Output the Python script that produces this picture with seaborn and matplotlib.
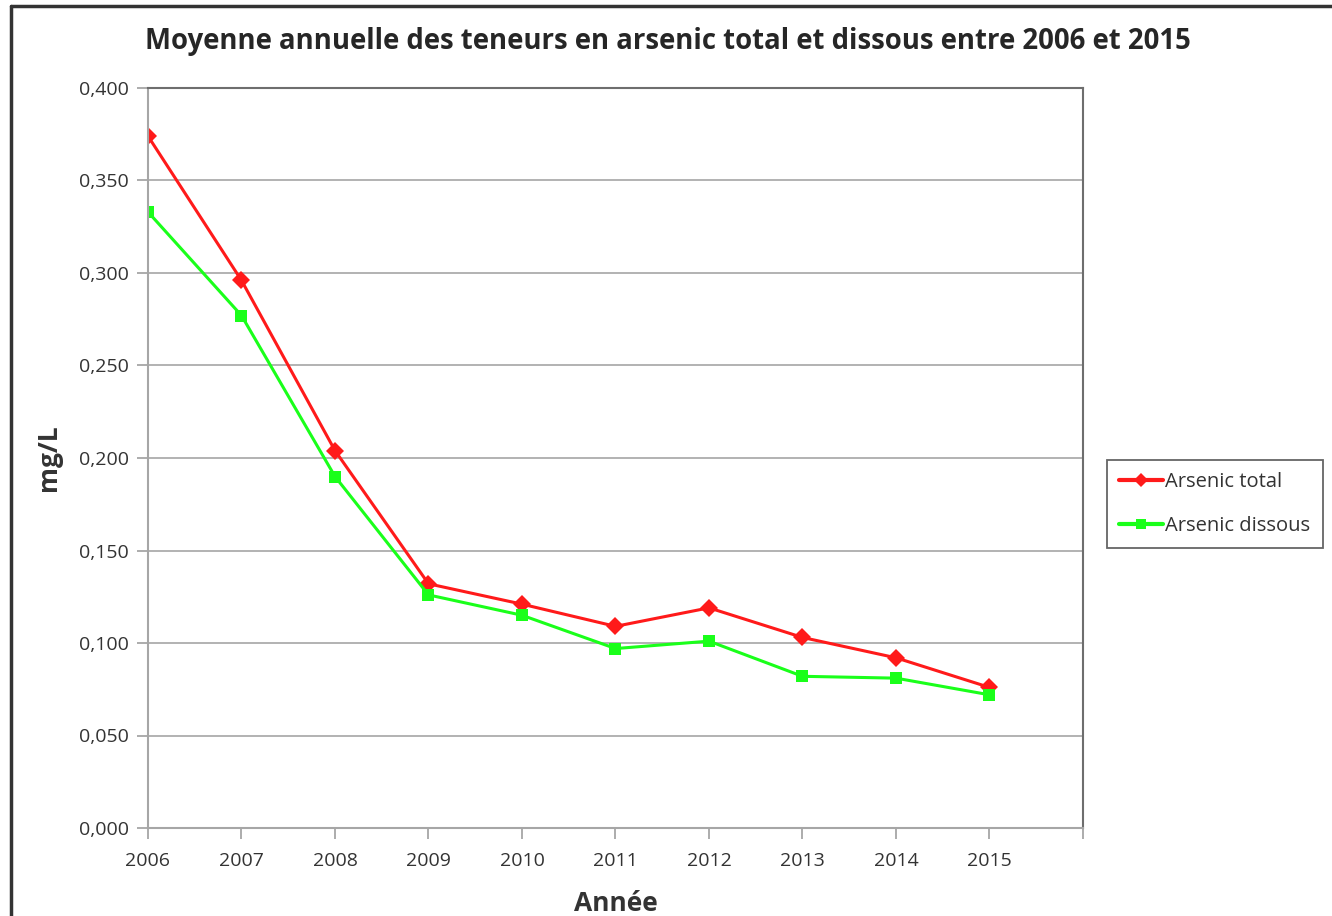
import matplotlib
matplotlib.use("Agg")
import matplotlib.pyplot as plt
from matplotlib.lines import Line2D
from matplotlib.ticker import FuncFormatter, MultipleLocator
import seaborn as sns
import pandas as pd

years = [2006, 2007, 2008, 2009, 2010, 2011, 2012, 2013, 2014, 2015]
arsenic_total = [0.374, 0.296, 0.204, 0.132, 0.121, 0.109, 0.119, 0.103, 0.092, 0.076]
arsenic_dissous = [0.333, 0.277, 0.190, 0.126, 0.115, 0.097, 0.101, 0.082, 0.081, 0.072]
series_names = ["Arsenic total", "Arsenic dissous"]

df = pd.DataFrame({
    "Année": years * 2,
    "mg/L": arsenic_total + arsenic_dissous,
    "serie": [series_names[0]] * len(years) + [series_names[1]] * len(years),
})

sns.set_style("white")
plt.rcParams['font.family'] = ['Open Sans', 'DejaVu Sans']

fig = plt.figure(figsize=(13.32, 9.16), dpi=100)
ax = fig.add_axes([148 / 1332, 88 / 916, (1083 - 148) / 1332, (828 - 88) / 916])

sns.lineplot(data=df, x="Année", y="mg/L", hue="serie", style="serie",
             palette={series_names[0]: "#ff1a1a", series_names[1]: "#1aff1a"},
             markers={series_names[0]: "D", series_names[1]: "s"},
             dashes=False, markersize=9, linewidth=2.2, markeredgewidth=0,
             ax=ax, legend=False)

ax.set_xlim(2006, 2016)
ax.set_ylim(0, 0.4)
ax.yaxis.set_major_locator(MultipleLocator(0.05))
ax.yaxis.set_major_formatter(FuncFormatter(lambda v, p: f"{v:.3f}".replace(".", ",")))
ax.set_xticks(years + [2016])
ax.set_xticklabels([str(y) for y in years] + [""])
ax.grid(axis="y", color="#a6a6a6", linewidth=1.2)
ax.grid(axis="x", visible=False)

for side in ["left", "bottom"]:
    ax.spines[side].set_color("#a6a6a6")
    ax.spines[side].set_linewidth(1.5)
for side in ["top", "right"]:
    ax.spines[side].set_color("#6e6e6e")
    ax.spines[side].set_linewidth(1.5)

ax.tick_params(axis="both", which="major", direction="out", length=8, width=1.3,
               color="#a6a6a6", labelsize=14, labelcolor="#333333",
               left=True, bottom=True)
ax.tick_params(axis="x", pad=9)
ax.tick_params(axis="y", pad=6)

ax.set_xlabel("Année", fontsize=19, fontweight="bold", color="#333333", labelpad=15)
ax.set_ylabel("mg/L", fontsize=19, fontweight="bold", color="#333333", labelpad=12)

fig.text(0.5 * (148 + 1188) / 1332, 1 - 42 / 916,
         "Moyenne annuelle des teneurs en arsenic total et dissous entre 2006 et 2015",
         ha="center", va="center", fontsize=19.8, fontweight="bold", color="#262626")

handles = [
    Line2D([], [], color="#ff1a1a", marker="D", markersize=7, linewidth=3, markeredgewidth=0),
    Line2D([], [], color="#1aff1a", marker="s", markersize=7, linewidth=3, markeredgewidth=0),
]
leg = fig.legend(handles, series_names, loc="center left",
                 bbox_to_anchor=(1107 / 1332, 1 - 504 / 916), fontsize=14.5,
                 frameon=True, fancybox=False, edgecolor="#404040",
                 handlelength=2.2, handletextpad=0.1, labelspacing=1.15,
                 borderpad=0.6, borderaxespad=0)
leg.get_frame().set_linewidth(1.3)
for t in leg.get_texts():
    t.set_color("#333333")

# outer chart border (only left and top visible in the original crop)
fig.add_artist(Line2D([11 / 1332, 11 / 1332], [0, 1 - 6 / 916], color="#333333", linewidth=2.5,
                      transform=fig.transFigure))
fig.add_artist(Line2D([11 / 1332, 1], [1 - 6 / 916, 1 - 6 / 916], color="#333333", linewidth=2.5,
                      transform=fig.transFigure))

fig.savefig("out.png", dpi=100)
